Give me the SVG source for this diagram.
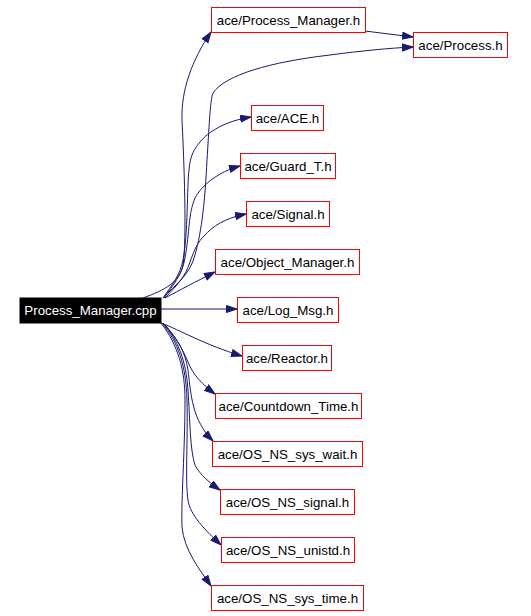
<svg xmlns="http://www.w3.org/2000/svg" width="531" height="616" viewBox="0 0 531 616">
<defs>
<style>
.n rect{fill:#fff;stroke:#ff0000;stroke-width:1}
.n text{font-family:"Liberation Sans",Arial,sans-serif;font-size:13.3px;fill:#000;text-anchor:middle}
#cpp rect{fill:#000;stroke:#000}
#cpp text{fill:#fff}
.e path{fill:none;stroke:#191970;stroke-width:1;marker-end:url(#a)}
</style>
<marker id="a" markerWidth="12" markerHeight="9" refX="11" refY="4" orient="auto" markerUnits="userSpaceOnUse">
<path d="M0.5,0.5 L11,4 L0.5,7.5 z" fill="#191970" stroke="#191970" stroke-width="1"/>
</marker>
</defs>
<rect width="531" height="616" fill="#fff"/>
<g class="e" id="edges">
<path d="M143,298 C165,290 180,282 183,265 C187,240 184,160 182,120 C181,90 192,60 211,32"/>
<path d="M365,31 L413,37"/>
<path d="M163,298 C175,285 190,275 195,255 C202,230 205,200 207,160 C209,130 210,100 213,93 C225,75 270,62 330,55 C360,51 390,48 413,47"/>
<path d="M163,298 C172,285 180,275 183,260 C188,235 187,185 189,170 C190,155 195,148 200,142 C208,132 225,121 251,117"/>
<path d="M164,298 C173,285 182,275 185,258 C190,230 188,215 195,198 C202,185 218,172 240,166"/>
<path d="M165,298 C175,287 185,278 190,262 C195,248 198,242 204,236 C213,226 225,218 246,214"/>
<path d="M165,298 C180,290 195,282 215,272"/>
<path d="M161,309 L237,309"/>
<path d="M161,323 C180,330 205,345 242,356"/>
<path d="M163,323 C175,335 183,350 188,362 C193,375 203,385 215,394"/>
<path d="M163,323 C176,337 185,350 188,370 C191,395 192,420 213,441"/>
<path d="M163,323 C178,340 186,360 188,390 C190,420 190,450 195,465 C200,475 210,483 220,490"/>
<path d="M162,323 C178,342 186,365 187,400 C188,440 185,480 188,500 C190,515 205,530 221,545"/>
<path d="M161,323 C178,345 185,370 185,400 C185,450 181,500 182,527 C184,550 200,570 211,586"/>
</g>
<g class="n" id="cpp"><rect x="20" y="298" width="141" height="25"/><text x="90.5" y="315">Process_Manager.cpp</text></g>
<g class="n" id="n_pm"><rect x="211.5" y="7.5" width="154" height="25"/><text x="288.5" y="25">ace/Process_Manager.h</text></g>
<g class="n" id="n_proc"><rect x="413.5" y="32.5" width="94" height="25"/><text x="460.5" y="50">ace/Process.h</text></g>
<g class="n" id="n_ace"><rect x="251.5" y="105.5" width="72" height="25"/><text x="287.5" y="123">ace/ACE.h</text></g>
<g class="n" id="n_guard"><rect x="240.5" y="153.5" width="95" height="25"/><text x="288" y="171">ace/Guard_T.h</text></g>
<g class="n" id="n_signal"><rect x="246.5" y="201.5" width="83" height="25"/><text x="288" y="219">ace/Signal.h</text></g>
<g class="n" id="n_om"><rect x="215.5" y="249.5" width="144" height="25"/><text x="287.5" y="267">ace/Object_Manager.h</text></g>
<g class="n" id="n_log"><rect x="237.5" y="297.5" width="101" height="25"/><text x="288" y="315">ace/Log_Msg.h</text></g>
<g class="n" id="n_reactor"><rect x="242.5" y="345.5" width="89" height="25"/><text x="287" y="363">ace/Reactor.h</text></g>
<g class="n" id="n_cd"><rect x="215.5" y="393.5" width="146" height="25"/><text x="288.5" y="411">ace/Countdown_Time.h</text></g>
<g class="n" id="n_wait"><rect x="212.5" y="441.5" width="150" height="25"/><text x="287.5" y="459">ace/OS_NS_sys_wait.h</text></g>
<g class="n" id="n_ossig"><rect x="220.5" y="489.5" width="134" height="25"/><text x="287.5" y="507">ace/OS_NS_signal.h</text></g>
<g class="n" id="n_unistd"><rect x="221.5" y="537.5" width="133" height="25"/><text x="288" y="555">ace/OS_NS_unistd.h</text></g>
<g class="n" id="n_time"><rect x="211.5" y="585.5" width="152" height="25"/><text x="287.5" y="603">ace/OS_NS_sys_time.h</text></g>
</svg>
